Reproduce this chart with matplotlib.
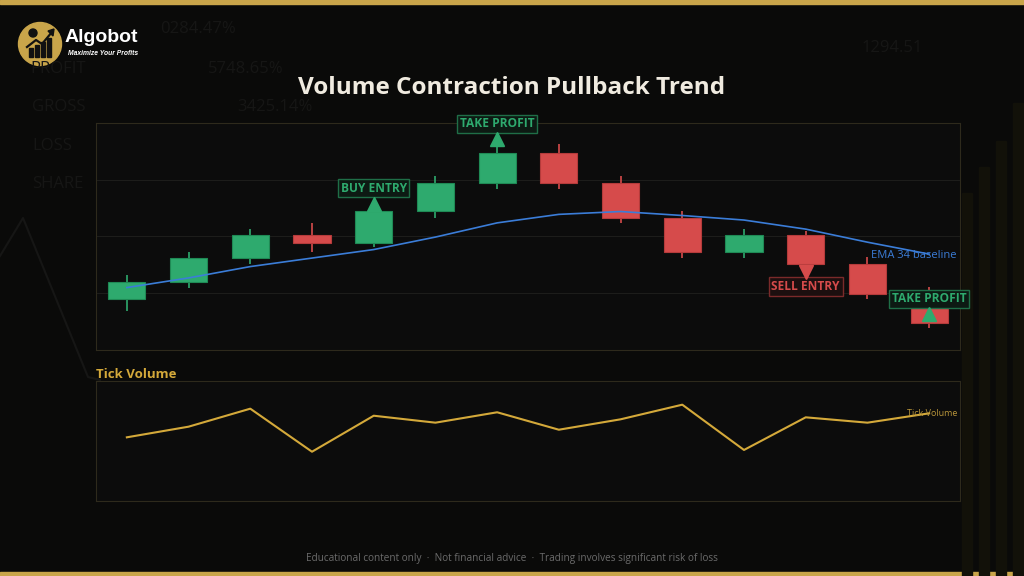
import matplotlib
matplotlib.use('Agg')
import matplotlib.pyplot as plt
import matplotlib.transforms as mtransforms
from matplotlib.patches import Circle, Rectangle, Polygon

plt.rcParams['font.family'] = ['Open Sans', 'DejaVu Sans']

# Candle data (open, high, low, close)
opens = [108.9, 112.0, 116.2, 120.3, 118.8, 124.5, 129.5, 134.75, 129.5, 123.3, 117.2, 120.3, 115.2, 107.8]
highs = [113.15, 117.3, 121.35, 122.35, 124.8, 130.6, 135.8, 136.3, 130.6, 124.5, 121.35, 120.9, 116.3, 111.1]
lows = [106.8, 111.0, 115.1, 117.2, 118.1, 123.3, 128.4, 128.4, 122.3, 116.2, 116.2, 114.6, 108.9, 103.9]
closes = [112.0, 116.2, 120.3, 118.8, 124.5, 129.5, 134.75, 129.5, 123.3, 117.2, 120.3, 115.1, 109.9, 104.8]
ema34 = [111.0, 112.7, 114.7, 116.2, 117.7, 119.9, 122.4, 123.9, 124.4, 123.7, 122.9, 121.3, 119.0, 116.9]
tick_volume = [796, 929, 1154, 616, 1066, 979, 1109, 891, 1021, 1204, 638, 1046, 979, 1096]

# Trade signals on the candles
signal_idx = [4, 6, 11, 13]
signal_text = ['BUY ENTRY', 'TAKE PROFIT', 'SELL ENTRY', 'TAKE PROFIT']
signal_kind = ['buy', 'tp', 'sell', 'tp']

# faint background decoration
bg_words = ['PROFIT', '5748.65%', 'GROSS', '3425.14%', 'LOSS', 'SHARE', '1294.51', '0284.47%']
bg_bar_x = [962, 979, 996, 1013]
bg_bar_top = [193, 167, 141, 103]

GREEN = '#2eaa6e'
RED = '#d64b4b'
GOLD = '#d4a93a'
BG = '#0a0a09'

fig = plt.figure(figsize=(10.24, 5.76), dpi=100, facecolor=BG)

# background layer in pixel coordinates
bg = fig.add_axes([0, 0, 1, 1], zorder=0)
bg.set_xlim(0, 1024)
bg.set_ylim(576, 0)
bg.axis('off')
bg.add_patch(Rectangle((0, 0), 1024, 4, color='#c9a54a'))
bg.add_patch(Rectangle((0, 571.5), 1024, 5, color='#c9a54a'))
word_pos = [(30, 69), (208, 69), (32, 107), (237, 107), (32, 146), (32, 184), (862, 48), (160, 29)]
for w, (wx, wy) in zip(bg_words, word_pos):
    bg.text(wx, wy, w, fontsize=12, color='#161615', ha='left', va='center')
bg.plot([0, 23, 88, 100], [256, 218, 377, 380], color='#161615', lw=1.5)
for bx, bt in zip(bg_bar_x, bg_bar_top):
    bg.add_patch(Rectangle((bx, bt), 10, 576 - bt, color='#121109'))

# logo
bg.add_patch(Circle((40, 44), 21.5, color='#c9a54a'))
for lx, lh in zip([29, 35, 41, 47], [9, 12, 15, 19]):
    bg.add_patch(Rectangle((lx, 57 - lh), 4, lh, color='#111111'))
bg.plot([27, 36, 42, 52], [47, 40, 44, 32], color='#111111', lw=1.6)
bg.add_patch(Polygon([[54, 29], [48, 31], [53, 36]], color='#111111'))
bg.add_patch(Circle((33, 33), 4, color='#111111'))
bg.text(65, 38, 'Algobot', fontsize=14, fontweight='bold', color='white',
        family='Liberation Sans', ha='left', va='center')
bg.text(68, 53.5, 'Maximize Your Profits', fontsize=4.9, fontweight='bold', style='italic',
        color='white', family='Liberation Sans', ha='left', va='center')

fig.text(0.5, 1 - 88 / 576, 'Volume Contraction Pullback Trend', fontsize=17.5, fontweight='bold',
         color='#f0ebe0', ha='center', va='center')

# price panel
ax = fig.add_axes([96 / 1024, 1 - 350 / 576, 864 / 1024, 227 / 576], zorder=2)
ax.set_facecolor('#0c0c0c')
x = list(range(len(opens)))
for i in x:
    up = closes[i] >= opens[i]
    col = GREEN if up else RED
    edge = '#1f8a55' if up else '#b53b3b'
    ax.vlines(i, lows[i], highs[i], color=col, lw=1.2, zorder=2)
    ax.bar(i, abs(closes[i] - opens[i]), bottom=min(opens[i], closes[i]), width=0.6,
           color=col, edgecolor=edge, lw=0.8, zorder=3)
ax.plot(x, ema34, color='#3b7dd8', lw=1.2, zorder=4)
ax.text(13.45, ema34[-1] - 0.3, 'EMA 34 baseline', color='#3b7dd8', fontsize=8,
        ha='right', va='center', zorder=5)

marker_dy = {'buy': 5.5, 'tp': 7.5, 'sell': -4.6}
text_dy = {'buy': 21, 'tp': 23, 'sell': -19.3}
for n, (i, label, kind) in enumerate(zip(signal_idx, signal_text, signal_kind)):
    if kind == 'sell':
        anchor, col, mk = lows[i], RED, 'v'
        fc, ec = '#1c0f0f', '#7a2a2a'
        mdy, tdy = marker_dy[kind], text_dy[kind]
    else:
        anchor, col, mk = highs[i], GREEN, '^'
        fc, ec = '#0d1a13', '#1f6e47'
        mdy, tdy = marker_dy[kind], text_dy[kind]
        if kind == 'tp' and n == 3:
            anchor = lows[i]
            mdy, tdy = 13.5, 29
    tr = mtransforms.offset_copy(ax.transData, fig=fig, x=0, y=mdy, units='dots')
    ax.plot(i, anchor, marker=mk, ms=10, color=col, transform=tr, zorder=7, clip_on=False)
    ax.annotate(label, xy=(i, anchor), xytext=(0, tdy), textcoords='offset pixels',
                ha='center', va='center', fontsize=8.6, fontweight='bold', color=col,
                bbox=dict(boxstyle='square,pad=0.22', fc=fc, ec=ec, lw=1),
                annotation_clip=False, zorder=6)

ax.set_xlim(-0.5, 13.5)
ax.set_ylim(100, 140)
ax.set_yticks([110, 120, 130])
ax.grid(axis='y', color='#1d1d1b', lw=0.8)
ax.tick_params(left=False, bottom=False, labelleft=False, labelbottom=False)
for s in ax.spines.values():
    s.set_color('#2e2a1c')

# volume panel
fig.text(96 / 1024, 1 - 374 / 576, 'Tick Volume', fontsize=9.5, fontweight='bold',
         color=GOLD, ha='left', va='center')
vax = fig.add_axes([96 / 1024, 1 - 501 / 576, 864 / 1024, 120 / 576], zorder=2)
vax.set_facecolor('#0c0c0c')
vax.plot(x, tick_volume, color=GOLD, lw=1.5)
vax.text(13.45, tick_volume[-1], 'Tick Volume', color='#b8953a', fontsize=6.5,
         ha='right', va='center')
vax.set_xlim(-0.5, 13.5)
vax.set_ylim(0, 1500)
vax.tick_params(left=False, bottom=False, labelleft=False, labelbottom=False)
for s in vax.spines.values():
    s.set_color('#2e2a1c')

fig.text(0.5, 1 - 558 / 576,
         'Educational content only  \u00b7  Not financial advice  \u00b7  Trading involves significant risk of loss',
         fontsize=7.2, color='#6b6b6b', ha='center', va='center')

fig.savefig('out.png', dpi=100, facecolor=BG)
